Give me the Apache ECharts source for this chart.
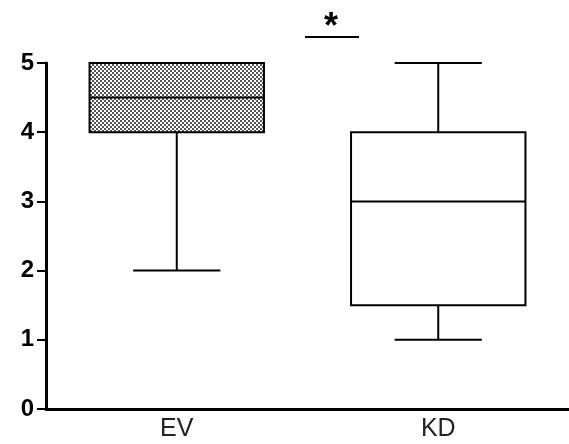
<!DOCTYPE html>
<html>
<head>
<meta charset="utf-8">
<script src="https://cdn.jsdelivr.net/npm/echarts@6/dist/echarts.min.js"></script>
<style>html,body{margin:0;padding:0;background:#fff}#c{width:569px;height:444px}</style>
</head>
<body>
<div id="c"></div>
<script>
var categories = ['EV', 'KD'];
var mins = [2, 1];
var q1s = [4, 1.5];
var medians = [4.5, 3];
var q3s = [5, 4];
var maxs = [5, 5];
var yTicks = [0, 1, 2, 3, 4, 5];
var patterned = [true, false];

var tile = document.createElement('canvas');
tile.width = 4; tile.height = 4;
var tc = tile.getContext('2d');
tc.fillStyle = '#ffffff'; tc.fillRect(0, 0, 4, 4);
tc.fillStyle = '#555555';
tc.fillRect(0, 0, 2, 2);
tc.fillRect(2, 2, 2, 2);

var data = categories.map(function (c, i) {
  return [i, mins[i], q1s[i], medians[i], q3s[i], maxs[i]];
});

var chart = echarts.init(document.getElementById('c'), null, {renderer: 'canvas'});
chart.setOption({
  animation: false,
  grid: {left: 46, right: 0, top: 63, bottom: 35},
  xAxis: {
    type: 'category',
    data: categories,
    boundaryGap: true,
    axisLine: {lineStyle: {color: '#000', width: 3}},
    axisTick: {show: false},
    axisLabel: {color: '#222', fontSize: 25, fontFamily: 'Arial, Liberation Sans', margin: 8}
  },
  yAxis: {
    type: 'value',
    min: 0, max: 5, interval: 1,
    splitLine: {show: false},
    axisLine: {show: true, lineStyle: {color: '#000', width: 3}},
    axisTick: {show: true, length: 9, lineStyle: {color: '#000', width: 2}},
    axisLabel: {
      color: '#000', fontSize: 24, fontWeight: 'bold', fontFamily: 'Arial, Liberation Sans',
      margin: 12, padding: [5, 0, 0, 0],
      formatter: function (v) { return yTicks.indexOf(v) >= 0 ? String(v) : ''; }
    }
  },
  series: [{
    type: 'custom',
    data: data,
    encode: {x: 0, y: [1, 2, 3, 4, 5]},
    clip: false,
    renderItem: function (params, api) {
      var idx = api.value(0);
      var bw = api.size([1, 0])[0] * 0.667;
      var cw = bw / 2;
      var pMin = api.coord([idx, api.value(1)]);
      var pQ1 = api.coord([idx, api.value(2)]);
      var pMed = api.coord([idx, api.value(3)]);
      var pQ3 = api.coord([idx, api.value(4)]);
      var pMax = api.coord([idx, api.value(5)]);
      var x = pMed[0];
      var ls = {stroke: '#000', lineWidth: 2};
      var fill = patterned[params.dataIndex] ? {image: tile, repeat: 'repeat'} : '#fff';
      return {
        type: 'group',
        children: [
          {type: 'line', shape: {x1: x, y1: pQ1[1], x2: x, y2: pMin[1]}, style: ls},
          {type: 'line', shape: {x1: x, y1: pQ3[1], x2: x, y2: pMax[1]}, style: ls},
          {type: 'line', shape: {x1: x - cw / 2, y1: pMin[1], x2: x + cw / 2, y2: pMin[1]}, style: ls},
          {type: 'line', shape: {x1: x - cw / 2, y1: pMax[1], x2: x + cw / 2, y2: pMax[1]}, style: ls},
          {type: 'rect', shape: {x: x - bw / 2, y: pQ3[1], width: bw, height: pQ1[1] - pQ3[1]},
            style: {fill: fill, stroke: '#000', lineWidth: 2}},
          {type: 'line', shape: {x1: x - bw / 2, y1: pMed[1], x2: x + bw / 2, y2: pMed[1]}, style: ls}
        ]
      };
    }
  }],
  graphic: [
    {type: 'line', shape: {x1: 305, y1: 37, x2: 359, y2: 37}, style: {stroke: '#000', lineWidth: 2}},
    {type: 'text', x: 331, y: 10, style: {text: '*', font: 'bold 36px Arial, Liberation Sans', fill: '#000', textAlign: 'center', textVerticalAlign: 'top'}}
  ]
});
</script>
</body>
</html>
